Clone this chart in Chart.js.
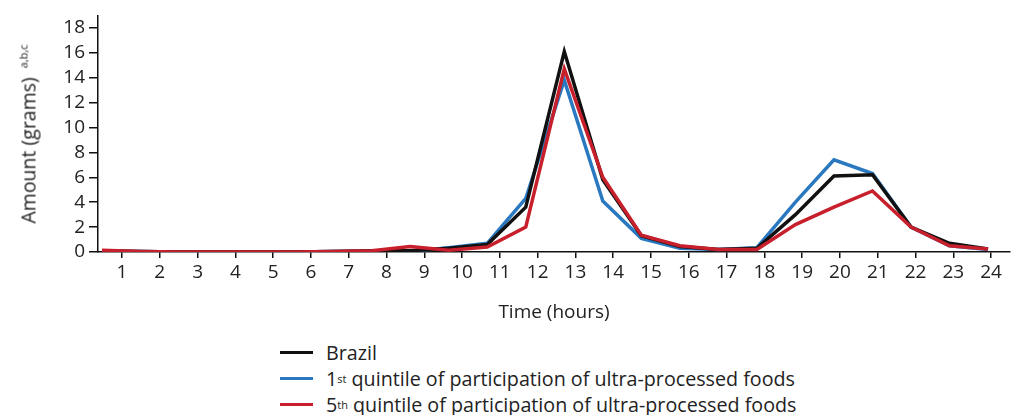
<!DOCTYPE html>
<html>
<head>
<meta charset="utf-8">
<script src="https://cdn.jsdelivr.net/npm/chart.js@4"></script>
<style>
  body { margin: 0; background: #fff; font-family: "Open Sans", sans-serif; color: #222; }
  #wrap { position: absolute; left: 0; top: 0; width: 1019px; height: 330px; }
  #ytitle {
    position: absolute; left: 28px; top: 134px; white-space: nowrap;
    transform: translate(-50%, -50%) rotate(-90deg); font-size: 19.5px;
  }
  #ytitle sup { font-size: 11px; margin-left: 9px; vertical-align: 8px; }
  #legend { position: absolute; left: 280px; top: 339px; font-size: 19.7px; }
  .row { height: 26px; display: flex; align-items: center; }
  .swatch { width: 33px; height: 3px; margin-right: 13px; }
  .row sup { font-size: 11px; vertical-align: 8px; }
</style>
</head>
<body>
<div id="wrap"><canvas id="chart" width="1019" height="330"></canvas></div>
<div id="ytitle">Amount (grams)<sup>a,b,c</sup></div>
<div id="legend">
  <div class="row"><div class="swatch" style="background:#111"></div>Brazil</div>
  <div class="row"><div class="swatch" style="background:#2a78bf"></div>1<sup>st</sup>&nbsp;quintile of participation of ultra-processed foods</div>
  <div class="row"><div class="swatch" style="background:#c71f2b"></div>5<sup>th</sup>&nbsp;quintile of participation of ultra-processed foods</div>
</div>
<script>
const hours = [1, 2, 3, 4, 5, 6, 7, 8, 9, 10, 11, 12, 13, 14, 15, 16, 17, 18, 19, 20, 21, 22, 23, 24];
const brazil = [0.1, 0.05, 0, 0, 0, 0, 0.05, 0.1, 0.1, 0.3, 0.6, 3.6, 16.1, 5.8, 1.3, 0.45, 0.2, 0.3, 3.0, 6.1, 6.2, 2.0, 0.7, 0.25];
const quintile1 = [0.05, 0.05, 0, 0, 0, 0, 0.05, 0.05, 0.05, 0.35, 0.7, 4.3, 13.8, 4.1, 1.1, 0.3, 0.2, 0.35, 4.0, 7.4, 6.3, 2.0, 0.5, 0.2];
const quintile5 = [0.15, 0.05, 0, 0, 0, 0, 0.05, 0.1, 0.45, 0.15, 0.4, 2.0, 14.7, 6.0, 1.35, 0.5, 0.2, 0.2, 2.2, 3.6, 4.9, 2.0, 0.5, 0.25];
const yTicks = [0, 2, 4, 6, 8, 10, 12, 14, 16, 18];

const pts = (vals) => hours.map((h, i) => ({ x: h, y: vals[i] }));
const lineSet = (label, vals, color, order) => ({
  label: label,
  data: pts(vals),
  borderColor: color,
  borderWidth: 3.5,
  pointRadius: 0,
  tension: 0,
  xAxisID: "xd",
  order: order,
});

const tickFont = { family: "Open Sans", size: 19 };

new Chart(document.getElementById("chart"), {
  type: "line",
  data: {
    datasets: [
      lineSet("Brazil", brazil, "#111111", 1),
      lineSet("1st quintile", quintile1, "#2a78bf", 2),
      lineSet("5th quintile", quintile5, "#c71f2b", 0),
    ],
  },
  options: {
    responsive: false,
    animation: { duration: 0 },
    layout: { padding: { top: 12, left: 0, right: 9, bottom: 0 } },
    plugins: { legend: { display: false }, tooltip: { enabled: false } },
    scales: {
      x: {
        type: "linear",
        position: "bottom",
        min: 0.365,
        max: 24.5,
        afterBuildTicks: (s) => { s.ticks = hours.map((v) => ({ value: v })); },
        afterFit: (s) => { s.height = 78; },
        border: { color: "#111", width: 1.5 },
        grid: { drawOnChartArea: false, drawTicks: true, tickLength: 6, color: "#111", lineWidth: 1.5 },
        ticks: { color: "#222", font: tickFont, padding: 3, maxRotation: 0, autoSkip: false },
        title: { display: true, text: "Time (hours)", color: "#222", font: { family: "Open Sans", size: 19 }, padding: { top: 10, bottom: 6 } },
      },
      xd: {
        type: "linear",
        display: false,
        min: 0.896,
        max: 24.57,
      },
      y: {
        min: 0,
        max: 19,
        afterBuildTicks: (s) => { s.ticks = yTicks.map((v) => ({ value: v })); },
        afterFit: (s) => { s.width = 98; },
        border: { color: "#111", width: 1.5 },
        grid: { drawOnChartArea: false, drawTicks: true, tickLength: 9, color: "#111", lineWidth: 1.5 },
        ticks: { color: "#222", font: tickFont, padding: 4 },
      },
    },
  },
});
</script>
</body>
</html>
